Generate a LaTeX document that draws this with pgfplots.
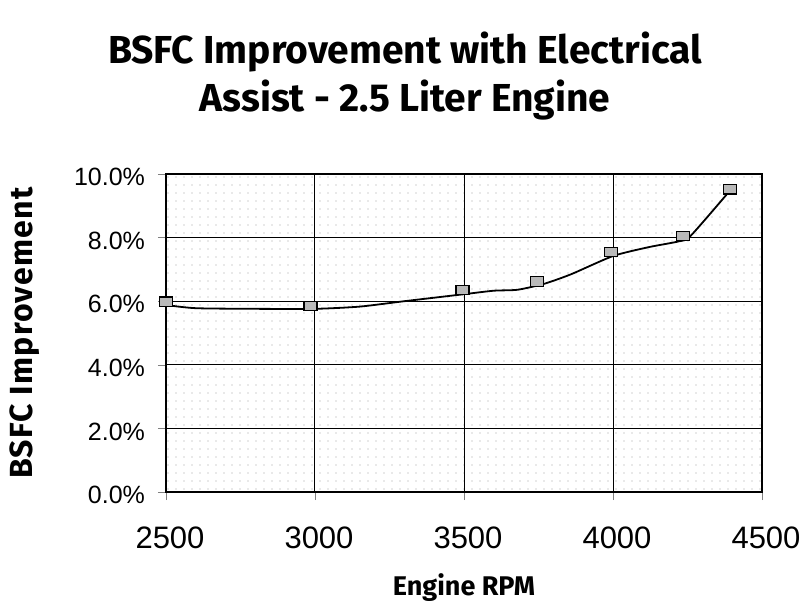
\documentclass[border=0pt]{standalone}
\usepackage{fontspec}
\setmainfont{Liberation Sans}
\newfontfamily\titlefont{Fira Sans}
\usepackage{pgfplots}
\pgfplotsset{compat=1.18}
\usetikzlibrary{patterns}

% sparse light dots for the plot area, like the Excel fill
\pgfdeclarepatternformonly{sparsedots}{\pgfqpoint{-1pt}{-1pt}}{\pgfqpoint{1pt}{1pt}}{\pgfqpoint{4pt}{4pt}}{%
  \pgfpathcircle{\pgfqpoint{0pt}{0pt}}{0.35pt}\pgfusepath{fill}}

\begin{document}
\begin{tikzpicture}
\begin{axis}[
  at={(0,0)}, anchor=south west,
  scale only axis, width=298pt, height=159pt,
  xmin=2500, xmax=4500, ymin=0, ymax=10,
  xtick={2500,3000,...,4500}, ytick={0,2,...,10},
  xticklabel style={/pgf/number format/1000 sep={}, yshift=-10pt, xshift=2pt,
    font=\fontsize{15.5}{17}\selectfont},
  yticklabel={\pgfmathprintnumber[fixed,fixed zerofill,precision=1]{\tick}\%},
  yticklabel style={xshift=-3pt, yshift=-1.5pt, font=\fontsize{12.5}{14}\selectfont},
  /pgf/number format/assume math mode=true,
  tick align=outside, major tick length=4pt,
  xtick pos=bottom, ytick pos=left,
  grid=major, grid style={black, line width=0.5pt},
  axis line style={black, line width=0.9pt},
  axis background/.style={pattern=sparsedots, pattern color=gray!75},
  xlabel={Engine RPM}, ylabel={BSFC Improvement},
  xlabel style={at={(axis description cs:0.5,-0.30)}, anchor=center,
    font=\titlefont\bfseries\fontsize{13.5}{15}\selectfont},
  ylabel style={at={(axis description cs:-0.2366,0.5)}, anchor=center,
    font=\titlefont\bfseries\fontsize{16}{18}\selectfont\addfontfeatures{LetterSpace=4}},
]
% smoothed trend as drawn in the chart
\addplot[black, line width=0.9pt, smooth, tension=0.4] coordinates {
  (2500,5.88) (2600,5.78) (2800,5.76) (3000,5.76) (3150,5.83) (3300,6.00)
  (3500,6.22) (3600,6.33) (3680,6.36) (3770,6.55) (3860,6.85) (4000,7.42)
  (4120,7.70) (4220,7.88) (4260,8.05) (4390,9.45)
};
% measured points
\addplot[only marks, mark=square*, mark size=2.4pt,
  mark options={xscale=1.35, fill=gray!55, draw=black, line width=0.6pt}] coordinates {
  (2500,5.98) (2985,5.85) (3495,6.35) (3745,6.62) (3993,7.55) (4234,8.05) (4392,9.52)
};
\end{axis}
\node[font=\titlefont\bfseries\fontsize{19.5}{24}\selectfont, align=center]
  at (119.5pt,208pt) {BSFC Improvement with Electrical\\Assist - 2.5 Liter Engine};
\useasboundingbox (-83pt,-58.5pt) rectangle (321pt,246pt);
\end{tikzpicture}
\end{document}
